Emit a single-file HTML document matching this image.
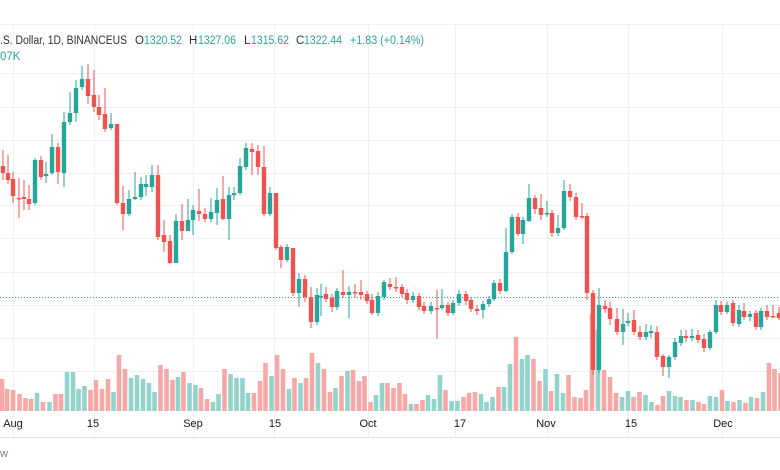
<!DOCTYPE html>
<html><head><meta charset="utf-8"><style>
html,body{margin:0;padding:0;background:#fff;}
body{width:780px;height:470px;overflow:hidden;position:relative;font-family:"Liberation Sans",sans-serif;}
svg{position:absolute;left:0;top:0;}
</style></head><body>
<svg id="s" width="780" height="470" xmlns="http://www.w3.org/2000/svg">
<g id="grid" stroke="#eef0f4" stroke-width="1"></g>
<g id="vol"></g>
<line x1="0" y1="297.5" x2="780" y2="297.5" stroke="#26a69a" stroke-width="1" stroke-dasharray="1,2"/>
<g id="cdl"></g>
<line x1="0" y1="437.5" x2="780" y2="437.5" stroke="#e0e3eb" stroke-width="1"/>
<g font-size="11.5" fill="#2a2e39" lengthAdjust="spacingAndGlyphs">
<text x="0" y="44" textLength="127" lengthAdjust="spacingAndGlyphs">.S. Dollar, 1D, BINANCEUS</text>
<text x="135" y="44">O</text><text x="144" y="44" fill="#26a69a" textLength="38" lengthAdjust="spacingAndGlyphs">1320.52</text>
<text x="189" y="44">H</text><text x="198" y="44" fill="#26a69a" textLength="38" lengthAdjust="spacingAndGlyphs">1327.06</text>
<text x="244" y="44">L</text><text x="251" y="44" fill="#26a69a" textLength="38" lengthAdjust="spacingAndGlyphs">1315.62</text>
<text x="296" y="44">C</text><text x="304" y="44" fill="#26a69a" textLength="38" lengthAdjust="spacingAndGlyphs">1322.44</text>
<text x="350" y="44" fill="#26a69a" textLength="74" lengthAdjust="spacingAndGlyphs">+1.83 (+0.14%)</text>
<text x="0" y="60" fill="#26a69a">07K</text>
</g>
<g font-size="11" fill="#131722" text-anchor="middle">
<text x="13" y="427">Aug</text><text x="93" y="427">15</text><text x="193" y="427">Sep</text><text x="275" y="427">15</text><text x="368" y="427">Oct</text><text x="460" y="427">17</text><text x="546" y="427">Nov</text><text x="631" y="427">15</text><text x="723" y="427">Dec</text>
</g>
<text x="0" y="457" font-size="11" fill="#787b86">w</text>
</svg>
<script>
var NS="http://www.w3.org/2000/svg";
function el(p,t,a){var e=document.createElementNS(NS,t);for(var k in a)e.setAttribute(k,a[k]);p.appendChild(e);return e;}
var g=document.getElementById("grid");
[24,73,107,140,173,205,238,272,305,338,371].forEach(function(y){el(g,"line",{x1:0,x2:780,y1:y+.5,y2:y+.5});});
[13,94,193,274,368,455,547,628,722].forEach(function(x){el(g,"line",{x1:x+.5,x2:x+.5,y1:24,y2:437});});
var C=[[3,166,173,150,180],[8,173,180,155,184],[13,179,196,172,203],[19,198,199,178,218],[24,197,199,180,210],[29,199,204,185,210],[35,203,160,158,205],[41,160,177,156,180],[46,176,174,162,183],[52,173,147,134,175],[58,147,172,143,184],[64,173,122,112,187],[70,122,113,92,125],[76,113,88,80,122],[82,87,79,66,90],[88,79,96,64,104],[94,95,107,70,112],[99,107,115,95,120],[105,114,129,88,132],[111,128,124,113,130],[117,124,203,124,205],[123,203,214,186,230],[129,214,199,190,216],[135,199,197,172,200],[141,197,184,177,200],[146,187,184,175,196],[152,187,175,165,192],[158,175,237,165,240],[164,235,242,220,252],[170,241,263,235,264],[176,263,221,214,263],[182,221,231,204,240],[188,231,220,199,231],[193,220,210,205,235],[199,211,214,189,221],[205,214,219,208,222],[211,219,212,198,222],[217,213,200,188,225],[223,199,219,176,220],[229,219,195,187,240],[234,195,193,187,200],[240,193,166,158,195],[246,167,148,143,170],[252,149,152,143,175],[258,151,167,145,175],[264,167,214,146,216],[270,214,193,187,216],[276,193,248,193,250],[281,247,260,245,268],[287,260,247,244,262],[293,248,293,248,296],[299,293,279,273,307],[305,279,297,275,302],[311,297,322,287,328],[317,322,295,288,325],
[321,297,296,284,316],[326,294,299,287,302],[332,298,307,294,312],[337,307,291,288,310],[343,292,295,270,298],[349,295,292,286,318],[355,292,293,284,298],[361,292,295,280,300],[367,294,301,291,304],[372,300,313,294,315],[378,313,296,292,316],[384,297,282,280,300],[390,284,287,278,290],[396,287,287,277,292],[402,287,294,284,297],[407,293,300,289,304],[413,300,296,292,303],[419,296,307,293,310],[424,306,311,302,314],[431,311,306,302,314],[437,308,309,290,339],[442,308,305,289,310],[448,305,313,302,316],[453,313,303,300,315],[459,303,294,290,306],[466,294,301,291,305],[471,300,309,297,312],[477,309,311,305,315],[483,310,304,301,318],[489,304,299,296,307],[494,299,283,280,301],[500,283,291,279,294],[506,291,252,228,292],[512,252,217,214,254],[518,217,234,213,236],[523,234,220,217,244],[529,221,198,184,222],[535,198,209,195,214],[541,208,215,194,220],[547,214,213,201,217],[552,213,233,210,237],[558,233,228,215,236],[564,228,191,180,230],[570,191,197,184,201],[576,197,217,193,220],[582,216,217,203,219],[587,216,293,213,300],[593,293,370,290,375],[599,370,305,288,373],[605,306,309,300,313],[610,308,319,302,325],[617,319,332,308,335],[623,332,324,309,345],[628,323,321,313,326],[634,320,332,310,335],[640,332,337,326,340],[646,337,332,324,340],[651,333,331,325,338],[657,332,357,326,360],[663,356,367,354,376],[669,367,357,355,378],[675,357,342,338,360],[681,343,336,330,346],[686,336,338,330,342],[692,338,336,329,341],[698,335,340,330,343],[704,339,348,334,352],[710,348,332,330,350],[716,332,305,300,334],[721,305,312,301,315],[727,312,305,302,314],[733,303,323,300,326],[739,324,310,305,327],[744,311,317,303,320],[750,317,314,311,321],[756,313,327,310,330],[761,327,311,308,330],[767,311,317,305,320],[773,316,316,305,318],[779,313,318,307,320]];
var cg=document.getElementById("cdl");
C.forEach(function(c){var up=c[2]<c[1];var col=up?"#26a69a":"#ef5350";
el(cg,"line",{x1:c[0],x2:c[0],y1:c[3],y2:c[4],stroke:col,"stroke-width":1});
var t=Math.min(c[1],c[2]),h=Math.max(1.5,Math.abs(c[1]-c[2]));
el(cg,"rect",{x:c[0]-2.2,y:t,width:4.4,height:h,fill:col});});
var V=[[0,379],[10,389],[22,390],[35,394],[47,398],[58,399],[70,393],[82,402],[95,402],[107,394],[118,394],[130,372],[142,372],[153,389],[165,386],[177,390],[188,380],[200,389],[212,379],[223,392],[234,355],[246,369],[258,378],[270,375],[282,379],[294,383],[305,392],[317,365],[329,369],[341,380],[352,377],[363,372],[375,383],[387,385],[398,388],[410,399],[422,402],[433,394],[445,369],[457,374],[469,378],[481,378],[492,393],[504,393],[516,381],[527,363],[539,376],[550,355],[562,369],[574,389],[585,378],[597,383],[608,378],[620,353],[632,363],[644,369],[656,392],[667,388],[679,376],[691,371],[702,370],[714,381],[725,376],[737,402],[748,395],[760,383],[771,383],[783,388],[795,383],[806,394],[818,404],[829,404],[841,400],[852,395],[864,399],[876,375],[887,390],[899,401],[911,401],[923,397],[934,393],[946,392],[958,394],[969,402],[981,397],[993,387],[1004,387],[1016,364],[1028,337],[1040,359],[1051,355],[1063,359],[1075,381],[1087,369],[1098,391],[1110,374],[1122,393],[1133,375],[1145,397],[1157,398],[1168,390],[1180,314],[1192,330],[1204,370],[1216,377],[1228,393],[1240,397],[1252,391],[1263,397],[1275,392],[1287,395],[1299,402],[1311,405],[1322,396],[1334,391],[1346,396],[1357,397],[1369,400],[1381,400],[1393,402],[1404,404],[1416,396],[1428,397],[1440,390],[1451,401],[1463,402],[1475,400],[1487,403],[1498,397],[1510,398],[1522,392],[1534,363],[1545,369],[1557,373]];
var vg=document.getElementById("vol");
V.forEach(function(v){var x=v[0]/2+2;var best=C[0],bd=1e9;C.forEach(function(c){var d=Math.abs(c[0]-x);if(d<bd){bd=d;best=c;}});
var up=best[2]<best[1];el(vg,"rect",{x:x-2.3,y:v[1],width:4.6,height:411-v[1],fill:up?"#93d3cc":"#f6a8a6"});});
</script>
</body></html>
